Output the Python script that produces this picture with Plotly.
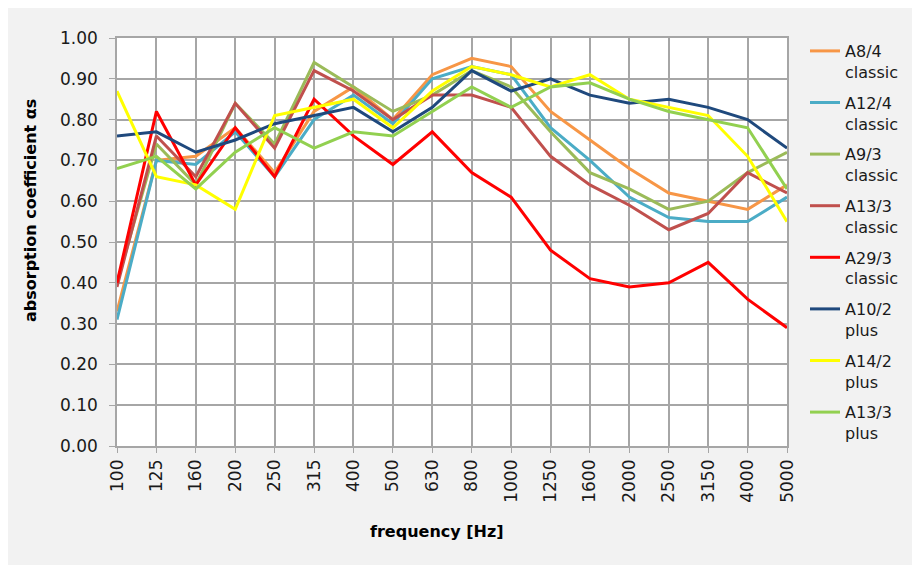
import plotly.graph_objects as go

frequencies = ["100", "125", "160", "200", "250", "315", "400", "500", "630", "800",
               "1000", "1250", "1600", "2000", "2500", "3150", "4000", "5000"]

a8_4_classic = [0.33, 0.70, 0.71, 0.78, 0.67, 0.82, 0.88, 0.80, 0.91, 0.95, 0.93, 0.82, 0.75, 0.68, 0.62, 0.60, 0.58, 0.64]
a12_4_classic = [0.31, 0.70, 0.69, 0.77, 0.66, 0.80, 0.86, 0.79, 0.90, 0.93, 0.91, 0.78, 0.70, 0.61, 0.56, 0.55, 0.55, 0.61]
a9_3_classic = [0.40, 0.74, 0.64, 0.84, 0.74, 0.94, 0.88, 0.82, 0.86, 0.92, 0.88, 0.77, 0.67, 0.63, 0.58, 0.60, 0.67, 0.72]
a13_3_classic = [0.39, 0.76, 0.66, 0.84, 0.73, 0.92, 0.87, 0.80, 0.86, 0.86, 0.83, 0.71, 0.64, 0.59, 0.53, 0.57, 0.67, 0.62]
a29_3_classic = [0.40, 0.82, 0.64, 0.78, 0.66, 0.85, 0.76, 0.69, 0.77, 0.67, 0.61, 0.48, 0.41, 0.39, 0.40, 0.45, 0.36, 0.29]
a10_2_plus = [0.76, 0.77, 0.72, 0.75, 0.79, 0.81, 0.83, 0.77, 0.83, 0.92, 0.87, 0.90, 0.86, 0.84, 0.85, 0.83, 0.80, 0.73]
a14_2_plus = [0.87, 0.66, 0.64, 0.58, 0.81, 0.83, 0.85, 0.78, 0.87, 0.93, 0.91, 0.88, 0.91, 0.85, 0.83, 0.81, 0.71, 0.55]
a13_3_plus = [0.68, 0.71, 0.63, 0.72, 0.78, 0.73, 0.77, 0.76, 0.82, 0.88, 0.83, 0.88, 0.89, 0.85, 0.82, 0.80, 0.78, 0.63]

series_names = ["A8/4<br>classic", "A12/4<br>classic", "A9/3<br>classic", "A13/3<br>classic",
                "A29/3<br>classic", "A10/2<br>plus", "A14/2<br>plus", "A13/3<br>plus"]
series_values = [a8_4_classic, a12_4_classic, a9_3_classic, a13_3_classic,
                 a29_3_classic, a10_2_plus, a14_2_plus, a13_3_plus]
series_colors = ["#f79646", "#4bacc6", "#9bbb59", "#c0504d",
                 "#ff0000", "#1f497d", "#ffff00", "#92d050"]

y_tickvals = [0.0, 0.1, 0.2, 0.3, 0.4, 0.5, 0.6, 0.7, 0.8, 0.9, 1.0]
y_ticktext = ["0.00", "0.10", "0.20", "0.30", "0.40", "0.50", "0.60", "0.70", "0.80", "0.90", "1.00"]

FONT = "DejaVu Sans"
GRID = "#a6a6a6"

fig = go.Figure()
for i, (name, vals, col) in enumerate(zip(series_names, series_values, series_colors)):
    fig.add_trace(go.Scatter(
        x=frequencies, y=vals, name=name, mode="lines",
        line=dict(color=col, width=3),
        legendgroup=str(i),
    ))

# figure is placed by the page at an 8px offset
W, H = 907, 557
L, T = 109, 30
R = W - 779
B = H - 438
pw, ph = W - L - R, H - T - B

def px_x(x):
    return (x - L) / pw

def px_y(y):
    return (H - B - y) / ph

fig.update_layout(
    width=W, height=H,
    margin=dict(l=L, r=R, t=T, b=B, pad=0, autoexpand=False),
    paper_bgcolor="#f2f2f2",
    plot_bgcolor="white",
    font=dict(family=FONT, size=16, color="#1a1a1a"),
    showlegend=True,
    legend=dict(
        x=px_x(797), y=px_y(26), xanchor="left", yanchor="top",
        bgcolor="rgba(0,0,0,0)", font=dict(family=FONT, size=16, color="#1a1a1a"),
        tracegroupgap=7, itemwidth=30, maxheight=520, valign="top",
    ),
    xaxis=dict(
        type="category", range=[0, len(frequencies) - 1],
        showgrid=True, gridcolor=GRID, gridwidth=1.5,
        showline=True, linecolor=GRID, linewidth=1.5, mirror=True,
        ticks="outside", ticklen=5, tickcolor=GRID,
        tickangle=-90, tickfont=dict(family=FONT, size=17, color="#1a1a1a"),
        zeroline=False,
    ),
    yaxis=dict(
        range=[0, 1.0], tickvals=y_tickvals, ticktext=y_ticktext,
        showgrid=True, gridcolor=GRID, gridwidth=1.5,
        showline=True, linecolor=GRID, linewidth=1.5, mirror=True,
        ticks="outside", ticklen=6, tickcolor=GRID, ticklabelstandoff=8,
        tickfont=dict(family=FONT, size=17, color="#1a1a1a"),
        zeroline=False,
    ),
    annotations=[
        dict(text="<b>absorption coefficient αs</b>", xref="paper", yref="paper",
             x=px_x(22), y=px_y(203), textangle=-90, showarrow=False,
             font=dict(family=FONT, size=16, color="#000000"),
             xanchor="center", yanchor="middle"),
        dict(text="<b>frequency [Hz]</b>", xref="paper", yref="paper",
             x=px_x(429), y=px_y(523), showarrow=False,
             font=dict(family=FONT, size=16, color="#000000"),
             xanchor="center", yanchor="middle"),
    ],
)

fig.write_html("out.html")
